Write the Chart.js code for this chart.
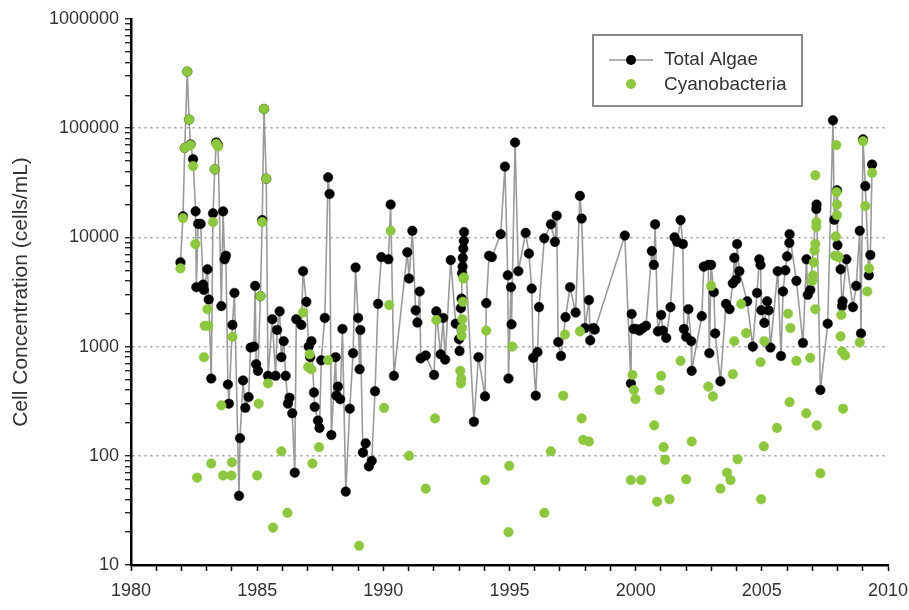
<!DOCTYPE html>
<html><head><meta charset="utf-8">
<script src="https://cdn.jsdelivr.net/npm/chart.js@4/dist/chart.umd.min.js"></script>
<style>html,body{margin:0;padding:0;background:#fff}#wrap{width:909px;height:610px}</style>
</head><body><div id="wrap"><canvas id="c" width="909" height="610"></canvas></div>
<script>
const seriesNames = ['Total Algae', 'Cyanobacteria'];
const yAxisTitle = 'Cell Concentration (cells/mL)';
const xTickLabels = ['1980','1985','1990','1995','2000','2005','2010'];
const yTickLabels = ['10','100','1000','10000','100000','1000000'];

const totalYears = [1981.96,1982.06,1982.13,1982.23,1982.30,1982.36,1982.46,1982.56,1982.59,1982.66,1982.76,1982.86,1982.89,1983.03,1983.08,1983.18,1983.25,1983.32,1983.38,1983.45,1983.58,1983.65,1983.71,1983.76,1983.84,1983.88,1984.02,1984.10,1984.28,1984.32,1984.44,1984.53,1984.66,1984.74,1984.87,1984.92,1984.96,1985.03,1985.13,1985.20,1985.27,1985.36,1985.43,1985.60,1985.73,1985.79,1985.89,1985.96,1986.05,1986.13,1986.22,1986.28,1986.39,1986.49,1986.55,1986.75,1986.82,1986.95,1987.04,1987.10,1987.15,1987.25,1987.28,1987.41,1987.47,1987.54,1987.68,1987.81,1987.87,1987.94,1988.11,1988.14,1988.20,1988.29,1988.38,1988.51,1988.67,1988.80,1988.90,1989.00,1989.06,1989.09,1989.19,1989.30,1989.43,1989.54,1989.67,1989.79,1989.92,1990.20,1990.29,1990.42,1990.95,1991.02,1991.15,1991.28,1991.35,1991.44,1991.48,1991.68,1992.01,1992.10,1992.27,1992.37,1992.45,1992.67,1992.87,1993.00,1993.02,1993.07,1993.10,1993.12,1993.14,1993.15,1993.17,1993.19,1993.20,1993.59,1993.77,1994.03,1994.08,1994.19,1994.30,1994.65,1994.82,1994.93,1994.96,1995.06,1995.08,1995.22,1995.35,1995.64,1995.77,1995.88,1995.94,1996.04,1996.11,1996.17,1996.38,1996.64,1996.80,1996.87,1996.93,1997.04,1997.22,1997.40,1997.62,1997.79,1997.86,1997.99,1998.15,1998.20,1998.32,1998.38,1999.57,1999.81,1999.84,1999.92,2000.02,2000.15,2000.28,2000.41,2000.64,2000.72,2000.77,2000.88,2001.01,2001.08,2001.21,2001.38,2001.54,2001.64,2001.78,2001.87,2001.91,2002.00,2002.09,2002.20,2002.22,2002.62,2002.70,2002.88,2002.92,2002.99,2003.10,2003.15,2003.36,2003.58,2003.72,2003.85,2003.91,2003.98,2004.02,2004.11,2004.42,2004.64,2004.81,2004.90,2004.95,2004.98,2005.10,2005.21,2005.27,2005.34,2005.63,2005.76,2005.84,2005.93,2006.00,2006.09,2006.10,2006.37,2006.63,2006.77,2006.82,2006.92,2007.16,2007.17,2007.32,2007.61,2007.82,2007.87,2007.98,2008.00,2008.12,2008.18,2008.20,2008.35,2008.61,2008.74,2008.88,2008.93,2009.01,2009.10,2009.24,2009.30,2009.37];
const totalValues = [5900,15600,66000,330000,120000,71000,52000,17300,3500,13300,13300,3700,3300,5100,2700,510,16600,42000,74000,70000,2350,17300,6300,6800,450,300,1580,3100,43,145,490,275,345,980,1000,3600,690,600,2900,14400,150000,34500,540,1780,540,1420,2100,800,1120,540,300,340,245,70,1780,1580,4900,2570,1000,800,1120,380,280,210,180,750,1830,35500,25000,155,800,355,430,330,1450,47,270,870,5300,1830,620,1420,107,130,80,90,390,2460,6600,6300,20000,540,7300,4200,11500,2150,1660,3200,780,830,550,2100,850,1830,760,6200,1620,1170,910,2250,2750,4700,5400,6500,7900,9300,11200,205,800,350,2500,6800,6600,10700,44500,4500,510,3500,1600,74000,4900,11000,7100,3400,790,355,890,2300,9800,13200,9100,15800,1100,820,1860,3500,2050,24000,14900,1480,2670,1140,1480,1430,10400,460,1990,1450,1450,1400,1480,1550,7500,5600,13200,1380,1950,1400,1200,2300,10000,9100,14400,8700,1450,1230,2200,1120,600,1900,5400,5600,870,5600,3150,1320,480,2460,2200,3800,6500,4100,8700,4900,2600,1000,3100,6300,5600,2150,1650,2600,2150,980,4900,820,3200,5000,6700,8900,10700,4000,1080,6300,2980,3300,18200,20000,400,1620,118000,14500,27000,8500,5100,2350,2600,6300,2300,3600,11500,1320,79000,29500,4500,6900,46500];

const cyanoYears = [1981.96,1982.06,1982.13,1982.23,1982.30,1982.36,1982.46,1982.55,1982.62,1982.89,1982.92,1983.03,1983.06,1983.18,1983.25,1983.32,1983.38,1983.45,1983.58,1983.65,1983.98,1984.00,1984.02,1985.00,1985.06,1985.13,1985.20,1985.27,1985.36,1985.43,1985.63,1985.96,1986.20,1986.82,1987.02,1987.08,1987.15,1987.19,1987.45,1987.81,1989.04,1990.03,1990.23,1990.29,1991.02,1991.68,1992.05,1992.10,1993.05,1993.07,1993.09,1993.10,1993.12,1993.13,1993.15,1993.17,1993.19,1994.03,1994.08,1994.96,1994.99,1995.11,1996.38,1996.64,1997.13,1997.20,1997.79,1997.86,1997.92,1998.15,1999.81,1999.87,1999.93,1999.99,2000.22,2000.74,2000.85,2000.95,2001.01,2001.11,2001.17,2001.34,2001.78,2002.00,2002.22,2002.88,2002.99,2003.06,2003.36,2003.62,2003.76,2003.85,2003.91,2004.04,2004.18,2004.38,2004.95,2004.97,2005.08,2005.10,2005.60,2006.04,2006.10,2006.13,2006.37,2006.76,2006.92,2007.00,2007.03,2007.06,2007.09,2007.12,2007.12,2007.12,2007.16,2007.16,2007.18,2007.32,2007.90,2007.93,2007.95,2007.96,2007.98,2007.98,2008.00,2008.05,2008.12,2008.15,2008.18,2008.22,2008.30,2008.88,2009.01,2009.10,2009.18,2009.25,2009.37];
const cyanoValues = [5200,15000,66000,330000,120000,70000,45000,8700,63,800,1550,2200,1550,85,13800,42000,72000,68000,290,66,66,87,1230,66,300,2900,13800,150000,34500,460,22,110,30,2050,650,850,620,85,120,750,15,275,2400,11500,100,50,220,1750,600,460,510,1260,1480,1780,2570,4200,4300,60,1400,20,81,1000,30,110,355,1290,1380,220,140,135,60,550,400,330,60,190,38,400,540,120,92,40,740,61,135,430,3600,350,50,70,60,560,1120,93,2460,1330,720,40,122,1120,180,2000,310,1480,740,245,790,4000,4500,5900,7600,8700,37000,2200,12500,13800,190,69,6800,10200,70000,26000,20000,16000,6700,6600,1240,1950,900,270,830,1090,76000,19400,3200,5200,39000];

const totalPoints = totalYears.map((x, i) => ({x: x, y: totalValues[i]}));
const cyanoPoints = cyanoYears.map((x, i) => ({x: x, y: cyanoValues[i]}));

const GREEN = '#8DC63F';
const FONT = "'Liberation Sans', Arial, sans-serif";

const yTickValues = [];
for (let e = 1; e <= 6; e++) {
  const base = Math.pow(10, e);
  yTickValues.push(base);
  if (e < 6) for (let m = 2; m <= 9; m++) yTickValues.push(m * base);
}
const isDecade = v => Math.abs(Math.log10(v) - Math.round(Math.log10(v))) < 1e-9;

const legendBox = {
  id: 'legendBox',
  afterDraw(chart) {
    const ctx = chart.ctx;
    ctx.save();
    ctx.fillStyle = '#fff';
    ctx.fillRect(593, 35, 209, 71);
    ctx.strokeStyle = '#8a8a8a';
    ctx.lineWidth = 2;
    ctx.strokeRect(593, 35, 209, 71);
    ctx.strokeStyle = '#9a9a9a';
    ctx.lineWidth = 1.5;
    ctx.beginPath(); ctx.moveTo(609, 60); ctx.lineTo(653, 60); ctx.stroke();
    ctx.fillStyle = '#000';
    ctx.beginPath(); ctx.arc(631, 60, 5, 0, Math.PI * 2); ctx.fill();
    ctx.fillStyle = GREEN;
    ctx.beginPath(); ctx.arc(631, 84, 5, 0, Math.PI * 2); ctx.fill();
    ctx.fillStyle = '#333';
    ctx.font = '19px ' + FONT;
    ctx.textBaseline = 'middle';
    ctx.fillText(seriesNames[0], 664, 60);
    ctx.fillText(seriesNames[1], 664, 85);
    ctx.restore();
  }
};

new Chart(document.getElementById('c'), {
  type: 'scatter',
  data: {
    datasets: [
      {
        label: seriesNames[0],
        data: totalPoints,
        showLine: true,
        borderColor: '#9a9a9a',
        borderWidth: 1.6,
        pointRadius: 4.8,
        pointBackgroundColor: '#000',
        pointBorderColor: '#000',
        pointBorderWidth: 0.5,
        order: 2
      },
      {
        label: seriesNames[1],
        data: cyanoPoints,
        showLine: false,
        pointRadius: 4.8,
        pointBackgroundColor: GREEN,
        pointBorderColor: GREEN,
        pointBorderWidth: 0.5,
        order: 1
      }
    ]
  },
  options: {
    responsive: false,
    animation: false,
    devicePixelRatio: 1,
    layout: { padding: { left: 0, right: 0, top: 19, bottom: 0 } },
    plugins: { legend: { display: false }, tooltip: { enabled: false } },
    scales: {
      x: {
        type: 'linear',
        min: 1980, max: 2010,
        afterFit: s => { s.height = 45; s.paddingRight = 21; },
        ticks: {
          stepSize: 1, autoSkip: false, maxRotation: 0, padding: 9,
          color: '#333', font: { family: FONT, size: 18 },
          callback: v => (v % 5 === 0 ? xTickLabels[(v - 1980) / 5] : '')
        },
        grid: { drawOnChartArea: false, tickColor: '#000', tickLength: 6, tickWidth: 1.5 },
        border: { color: '#000', width: 2.5 }
      },
      y: {
        type: 'logarithmic',
        min: 10, max: 1000000,
        afterFit: s => { s.width = 131; },
        afterBuildTicks: s => { s.ticks = yTickValues.map(v => ({ value: v })); },
        title: { display: true, text: yAxisTitle, color: '#333', font: { family: FONT, size: 21 }, padding: { top: 9, bottom: 0 } },
        ticks: {
          autoSkip: false, padding: 6,
          color: '#333', font: { family: FONT, size: 18 },
          callback: v => (isDecade(v) ? yTickLabels[Math.round(Math.log10(v)) - 1] : '')
        },
        grid: {
          color: c => (c.tick && isDecade(c.tick.value) && c.tick.value > 10 && c.tick.value < 1000000 ? '#9a9a9a' : 'rgba(0,0,0,0)'),
          lineWidth: 1.5,
          tickColor: '#000', tickLength: 6, tickWidth: 1.2
        },
        border: { color: '#000', width: 2.5, dash: [2, 4] }
      }
    }
  },
  plugins: [legendBox]
});
</script>
</body></html>
